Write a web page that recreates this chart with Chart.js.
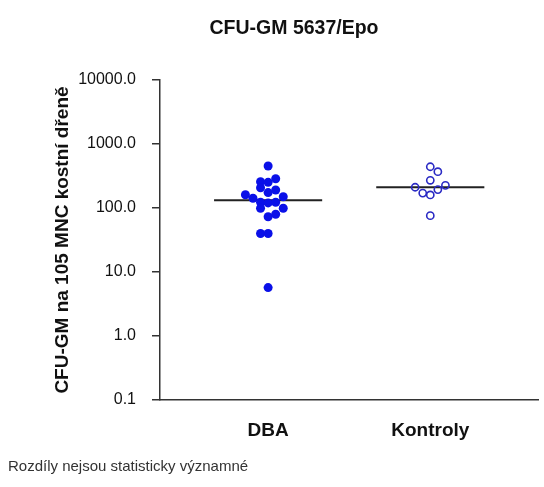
<!DOCTYPE html>
<html>
<head>
<meta charset="utf-8">
<script src="https://cdn.jsdelivr.net/npm/chart.js@4.4.0/dist/chart.umd.min.js"></script>
<style>
  html, body { margin: 0; padding: 0; background: #fff; }
  #wrap { position: relative; width: 544px; height: 487px; }
  #c { position: absolute; left: 0; top: 0; }
  #title { position: absolute; top: 16px; left: 194px; width: 200px; text-align: center;
           font: bold 19.5px "Liberation Sans", Arial, sans-serif; color: #111; white-space: nowrap; }
  #note { position: absolute; left: 8px; top: 457px;
          font: 15px "Liberation Sans", Arial, sans-serif; color: #333; white-space: nowrap; }
</style>
</head>
<body>
<div id="wrap">
  <canvas id="c" width="544" height="487"></canvas>
  <div id="title">CFU-GM 5637/Epo</div>
  <div id="note">Rozdíly nejsou statisticky významné</div>
</div>
<script>
const categories = ['DBA', 'Kontroly'];
const categoryPos = [1, 2.5];
const dbaValues = [453, 258, 252, 286, 207, 174, 191, 161, 142, 150, 123, 120, 123, 99, 99, 73, 80, 40, 40, 5.7];
const dbaX      = [1.00, 0.93, 1.00, 1.07, 0.93, 1.00, 1.07, 0.79, 0.86, 1.14, 0.93, 1.00, 1.07, 0.93, 1.14, 1.00, 1.07, 0.93, 1.00, 1.00];
const kontrolyValues = [441, 369, 271, 211, 171, 160, 194, 226, 76];
const kontrolyX      = [2.50, 2.57, 2.50, 2.36, 2.43, 2.50, 2.57, 2.64, 2.50];
const medians = [132, 211];
const medianSpan = 0.5;
const yTickValues = [0.1, 1, 10, 100, 1000, 10000];
const yAxisTitle = 'CFU-GM na 105 MNC kostní dřeně';

const toPts = (xs, ys) => ys.map((v, i) => ({ x: xs[i], y: v }));

new Chart(document.getElementById('c'), {
  type: 'scatter',
  data: {
    datasets: [
      { label: categories[0], data: toPts(dbaX, dbaValues), pointStyle: 'circle',
        pointRadius: 4.5, backgroundColor: '#0a10e8', borderColor: '#0a10e8', borderWidth: 0 },
      { label: categories[1], data: toPts(kontrolyX, kontrolyValues), pointStyle: 'circle',
        pointRadius: 3.6, backgroundColor: 'rgba(255,255,255,0)', borderColor: '#2b2bc4', borderWidth: 1.6 },
      { label: 'median ' + categories[0], type: 'line', showLine: true, pointRadius: 0,
        data: [{ x: categoryPos[0] - medianSpan, y: medians[0] }, { x: categoryPos[0] + medianSpan, y: medians[0] }],
        borderColor: '#222', borderWidth: 2 },
      { label: 'median ' + categories[1], type: 'line', showLine: true, pointRadius: 0,
        data: [{ x: categoryPos[1] - medianSpan, y: medians[1] }, { x: categoryPos[1] + medianSpan, y: medians[1] }],
        borderColor: '#222', borderWidth: 2 }
    ]
  },
  options: {
    responsive: false,
    animation: false,
    layout: { padding: { left: 0, right: 4, top: 80, bottom: 0 } },
    plugins: { legend: { display: false }, tooltip: { enabled: false }, title: { display: false } },
    scales: {
      x: {
        type: 'linear', min: 0, max: 3.5,
        afterBuildTicks: s => { s.ticks = categoryPos.map(v => ({ value: v })); },
        afterFit: s => { s.height = 87; },
        ticks: {
          callback: (v, i) => categories[i],
          font: { family: '"Liberation Sans", Arial, sans-serif', size: 19, weight: 'bold' },
          color: '#111', padding: 11, maxRotation: 0, autoSkip: false
        },
        grid: { display: false },
        border: { display: true, color: '#333', width: 1.5 }
      },
      y: {
        type: 'logarithmic', min: 0.1, max: 10000,
        afterBuildTicks: s => { s.ticks = yTickValues.map(v => ({ value: v })); },
        afterFit: s => { s.width = 160; },
        ticks: {
          callback: v => Number(v).toFixed(1),
          font: { family: '"Liberation Sans", Arial, sans-serif', size: 16 },
          color: '#111', padding: 16, autoSkip: false
        },
        grid: { display: true, drawOnChartArea: false, drawTicks: true, tickLength: 8, color: '#333', lineWidth: 1.5 },
        border: { display: true, color: '#333', width: 1.5 },
        title: {
          display: true, text: yAxisTitle, color: '#111',
          font: { family: '"Liberation Sans", Arial, sans-serif', size: 19, weight: 'bold' },
          padding: { top: 51, bottom: 0 }
        }
      }
    }
  }
});
</script>
</body>
</html>
